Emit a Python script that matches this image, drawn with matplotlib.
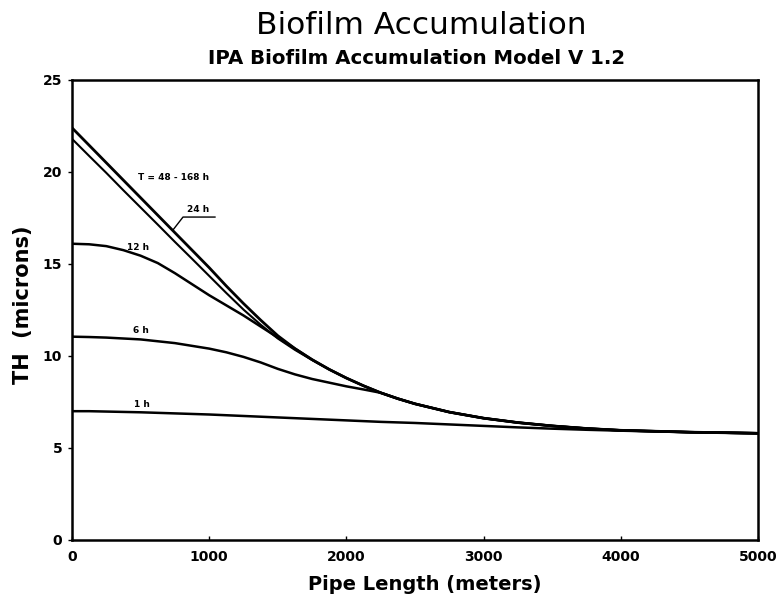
import matplotlib
matplotlib.use("Agg")
import matplotlib.pyplot as plt

# 管長 (m)
x = [0, 125, 250, 375, 500, 625, 750, 875, 1000, 1125, 1250, 1375, 1500, 1625, 1750,
     1875, 2000, 2125, 2250, 2375, 2500, 2750, 3000, 3250, 3500, 3750, 4000, 4500, 5000]

# 各時間の膜厚 (microns)
th_48_168h = [22.4, 21.45, 20.5, 19.55, 18.6, 17.65, 16.7, 15.75, 14.8, 13.8, 12.85, 11.95, 11.1, 10.4, 9.8,
              9.27, 8.8, 8.38, 8.0, 7.68, 7.4, 6.95, 6.62, 6.38, 6.2, 6.06, 5.96, 5.86, 5.8]
th_24h = [21.8, 20.87, 19.95, 19.0, 18.07, 17.14, 16.2, 15.28, 14.35, 13.42, 12.52, 11.7, 10.95, 10.33, 9.78,
          9.27, 8.8, 8.38, 8.0, 7.68, 7.4, 6.95, 6.62, 6.38, 6.2, 6.06, 5.96, 5.86, 5.8]
th_12h = [16.1, 16.07, 15.97, 15.75, 15.45, 15.05, 14.5, 13.9, 13.3, 12.75, 12.2, 11.6, 11.0, 10.4, 9.8,
          9.27, 8.8, 8.38, 8.0, 7.68, 7.4, 6.95, 6.62, 6.38, 6.2, 6.06, 5.96, 5.86, 5.8]
th_6h = [11.05, 11.03, 11.0, 10.95, 10.9, 10.8, 10.7, 10.55, 10.4, 10.2, 9.95, 9.65, 9.3, 9.0, 8.75,
         8.55, 8.35, 8.18, 8.0, 7.68, 7.4, 6.95, 6.62, 6.38, 6.2, 6.06, 5.96, 5.86, 5.8]
th_1h = [7.0, 7.0, 6.98, 6.96, 6.94, 6.91, 6.88, 6.85, 6.82, 6.78, 6.74, 6.7, 6.66, 6.62, 6.58,
         6.54, 6.5, 6.46, 6.42, 6.39, 6.36, 6.28, 6.2, 6.12, 6.05, 5.99, 5.94, 5.86, 5.8]

x_ticks = [0, 1000, 2000, 3000, 4000, 5000]
y_ticks = [0, 5, 10, 15, 20, 25]

fig = plt.figure(figsize=(7.81, 5.99), dpi=100)
ax = fig.add_axes([0.0922, 0.0985, 0.8784, 0.768])

ax.plot(x, th_48_168h, color="black", lw=2.0)
ax.plot(x, th_24h, color="black", lw=1.5)
ax.plot(x, th_12h, color="black", lw=1.8)
ax.plot(x, th_6h, color="black", lw=1.8)
ax.plot(x, th_1h, color="black", lw=1.8)

# 曲線ラベル
lab = dict(fontsize=6.5, fontweight="bold", ha="center", va="center")
ax.text(740, 19.7, "T = 48 - 168 h", **lab)
ax.text(920, 17.95, "24 h", **lab)
ax.plot([736, 809, 1042], [16.85, 17.55, 17.55], color="black", lw=1.0)
ax.text(481, 15.9, "12 h", **lab)
ax.text(503, 11.4, "6 h", **lab)
ax.text(510, 7.35, "1 h", **lab)

ax.set_xlim(0, 5000)
ax.set_ylim(0, 25)
ax.set_xticks(x_ticks)
ax.set_yticks(y_ticks)
ax.tick_params(axis="x", direction="in", length=3, width=1, pad=7, labelsize=10)
ax.tick_params(axis="y", direction="out", length=3, width=1, pad=4, labelsize=10)
for lbl in ax.get_xticklabels() + ax.get_yticklabels():
    lbl.set_fontweight("bold")
for s in ax.spines.values():
    s.set_linewidth(1.8)

fig.text(0.539, 1 - 26 / 599, "Biofilm Accumulation", fontsize=22.5, ha="center", va="center")
fig.text(0.534, 1 - 58 / 599, "IPA Biofilm Accumulation Model V 1.2", fontsize=14.2,
         fontweight="bold", ha="center", va="center")
fig.text(0.544, 1 - 585 / 599, "Pipe Length (meters)", fontsize=14, fontweight="bold",
         ha="center", va="center")
fig.text(23 / 781, 1 - 305 / 599, "TH  (microns)", fontsize=15, fontweight="bold",
         rotation=90, ha="center", va="center")

fig.savefig("out.png", dpi=100)
